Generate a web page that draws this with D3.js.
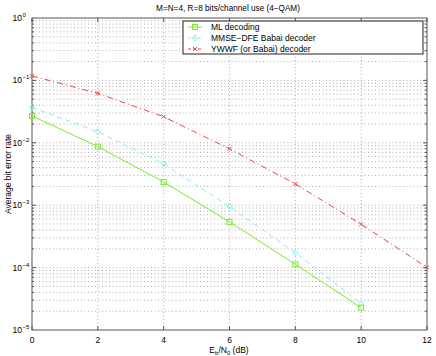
<!DOCTYPE html>
<html>
<head>
<meta charset="utf-8">
<script src="https://cdn.jsdelivr.net/npm/d3@7"></script>
<style>
  body { margin: 0; background: #fff; }
  svg { font-family: "Liberation Sans", Arial, sans-serif; }
</style>
</head>
<body>
<svg id="chart" width="436" height="356"></svg>
<script>
// Eb/N0 values (dB)
var snr = [0, 2, 4, 6, 8, 10, 12];
var mlBer = [0.027, 0.0087, 0.00235, 0.00054, 0.000113, 0.0000228];
var mmseBer = [0.037, 0.0151, 0.0046, 0.00095, 0.000173, 0.0000267];
var ywwfBer = [0.118, 0.062, 0.0262, 0.0080, 0.00219, 0.000494, 0.000101];
var xTicks = [0, 2, 4, 6, 8, 10, 12];
var yDecades = [-5, -4, -3, -2, -1, 0];

var svg = d3.select("#chart");
var pLeft = 32, pRight = 427, pTop = 18, pBottom = 330;

var x = d3.scaleLinear().domain([0, 12]).range([pLeft, pRight]);
var y = d3.scaleLog().domain([1e-5, 1]).range([pBottom, pTop]);

var series = [
    {name: "ML decoding", data: mlBer, color: "#77ee22", dash: null, marker: "square"},
    {name: "MMSE\u2212DFE Babai decoder", data: mmseBer, color: "#88eeee", dash: "5,4", marker: "diamond"},
    {name: "YWWF (or Babai) decoder", data: ywwfBer, color: "#ee4444", dash: "6,3,1,3", marker: "cross"}
];

// grid
var grid = svg.append("g").attr("stroke", "#999").attr("stroke-width", 0.8)
    .attr("stroke-dasharray", "1,2.5");
xTicks.slice(1, -1).forEach(function (t) {
    grid.append("line").attr("x1", x(t)).attr("x2", x(t)).attr("y1", pTop).attr("y2", pBottom);
});
var minor = [];
yDecades.forEach(function (e) {
    for (var m = 1; m < 10; m++) {
        var v = m * Math.pow(10, e);
        if (v > 1e-5 && v < 1) minor.push({v: v, major: m === 1});
    }
});
minor.forEach(function (d) {
    grid.append("line").attr("x1", pLeft).attr("x2", pRight).attr("y1", y(d.v)).attr("y2", y(d.v));
});

// axes frame
svg.append("rect").attr("x", pLeft).attr("y", pTop).attr("width", pRight - pLeft).attr("height", pBottom - pTop)
    .attr("fill", "none").attr("stroke", "#555").attr("stroke-width", 1);

var ticks = svg.append("g").attr("stroke", "#555").attr("stroke-width", 1);
xTicks.forEach(function (t) {
    ticks.append("line").attr("x1", x(t)).attr("x2", x(t)).attr("y1", pBottom).attr("y2", pBottom - 4);
    ticks.append("line").attr("x1", x(t)).attr("x2", x(t)).attr("y1", pTop).attr("y2", pTop + 4);
});
minor.forEach(function (d) {
    var len = d.major ? 4 : 2;
    ticks.append("line").attr("x1", pLeft).attr("x2", pLeft + len).attr("y1", y(d.v)).attr("y2", y(d.v));
    ticks.append("line").attr("x1", pRight).attr("x2", pRight - len).attr("y1", y(d.v)).attr("y2", y(d.v));
});

// tick labels
svg.append("g").selectAll("text").data(xTicks).enter().append("text")
    .attr("x", function (d) { return x(d); })
    .attr("y", 343)
    .attr("text-anchor", "middle")
    .attr("font-size", 8.5)
    .text(function (d) { return d; });

svg.append("g").selectAll("text").data(yDecades).enter().append("text")
    .attr("x", 22)
    .attr("y", function (d) { return y(Math.pow(10, d)) + 3; })
    .attr("text-anchor", "end")
    .attr("font-size", 8.5)
    .text("10");
svg.append("g").selectAll("text").data(yDecades).enter().append("text")
    .attr("x", 22.5)
    .attr("y", function (d) { return y(Math.pow(10, d)) - 1; })
    .attr("font-size", 6)
    .text(function (d) { return d === 0 ? "0" : "\u2212" + (-d); });

// axis titles
var xl = svg.append("text").attr("x", 229).attr("y", 353).attr("text-anchor", "middle").attr("font-size", 8.5);
xl.append("tspan").text("E");
xl.append("tspan").attr("font-size", 6).attr("dy", 2).text("b");
xl.append("tspan").attr("dy", -2).text("/N");
xl.append("tspan").attr("font-size", 6).attr("dy", 2).text("0");
xl.append("tspan").attr("dy", -2).text(" (dB)");

svg.append("text")
    .attr("transform", "translate(11,174) rotate(-90)")
    .attr("text-anchor", "middle")
    .attr("font-size", 8.5)
    .text("Average bit error rate");

svg.append("text").attr("x", 228).attr("y", 11).attr("text-anchor", "middle").attr("font-size", 8.2)
    .text("M=N=4, R=8 bits/channel use (4\u2212QAM)");

function drawMarker(g, type, cx, cy, color) {
    if (type === "square") {
        g.append("rect").attr("x", cx - 2.5).attr("y", cy - 2.5).attr("width", 5).attr("height", 5)
            .attr("fill", "none").attr("stroke", color).attr("stroke-width", 1);
    } else if (type === "diamond") {
        g.append("path").attr("d", "M" + cx + "," + (cy - 3) + "L" + (cx + 2.5) + "," + cy + "L" + cx + "," + (cy + 3) + "L" + (cx - 2.5) + "," + cy + "Z")
            .attr("fill", "none").attr("stroke", color).attr("stroke-width", 1);
    } else {
        g.append("path").attr("d", "M" + (cx - 2) + "," + (cy - 2) + "L" + (cx + 2) + "," + (cy + 2) + "M" + (cx - 2) + "," + (cy + 2) + "L" + (cx + 2) + "," + (cy - 2))
            .attr("stroke", color).attr("stroke-width", 1);
    }
}

var line = d3.line()
    .x(function (d, i) { return x(snr[i]); })
    .y(function (d) { return y(d); });

series.forEach(function (s) {
    var g = svg.append("g");
    g.append("path").attr("d", line(s.data)).attr("fill", "none")
        .attr("stroke", s.color).attr("stroke-width", 1)
        .attr("stroke-dasharray", s.dash);
    s.data.forEach(function (d, i) {
        drawMarker(g, s.marker, x(snr[i]), y(d), s.color);
    });
});

// legend
var lg = svg.append("g");
lg.append("rect").attr("x", 183).attr("y", 21).attr("width", 240).attr("height", 33)
    .attr("fill", "#fff").attr("stroke", "#222").attr("stroke-width", 1);
series.forEach(function (s, i) {
    var ly = 27 + i * 11;
    lg.append("line").attr("x1", 188).attr("x2", 202).attr("y1", ly).attr("y2", ly)
        .attr("stroke", s.color).attr("stroke-width", 1).attr("stroke-dasharray", s.dash ? "3,2" : null);
    drawMarker(lg, s.marker, 195, ly, s.color);
    lg.append("text").attr("x", 211).attr("y", ly + 3).attr("font-size", 8.5).text(s.name);
});
</script>
</body>
</html>
